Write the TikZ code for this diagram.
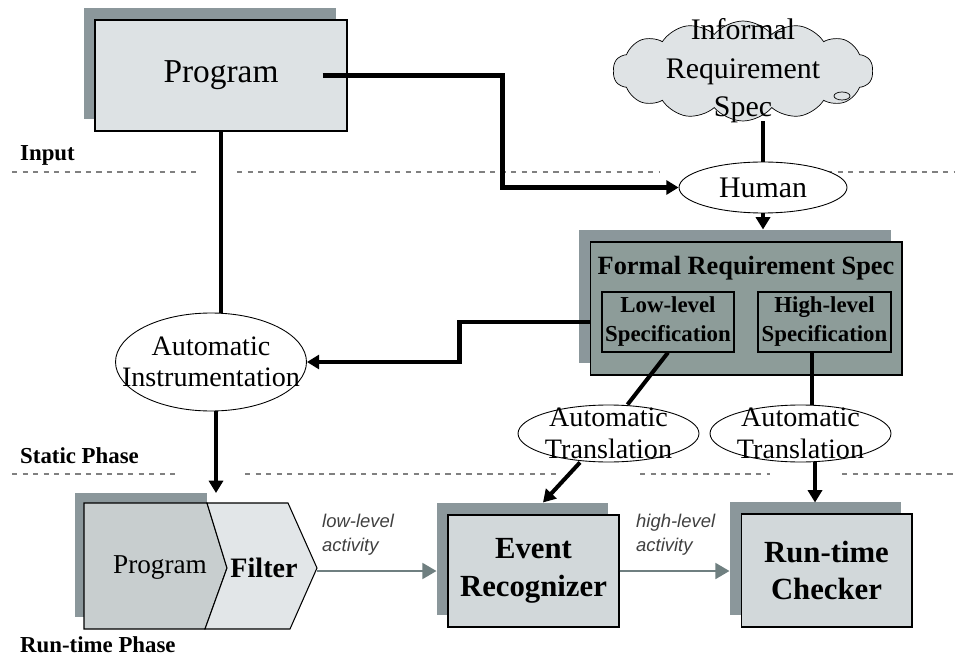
\documentclass[tikz,border=0pt]{standalone}
\usepackage{fontspec}
\setmainfont{Liberation Serif}
\setsansfont{Liberation Sans}
\usetikzlibrary{shapes.geometric,shapes.symbols,shadows,arrows.meta}
\definecolor{boxgray}{HTML}{DDE2E4}
\definecolor{shadegray}{HTML}{8B979B}
\definecolor{formalgray}{HTML}{8D9C99}
\definecolor{evgray}{HTML}{D2D8DA}
\definecolor{pgmgray}{HTML}{C8CECF}
\definecolor{filtgray}{HTML}{E2E6E8}
\definecolor{cloudgray}{HTML}{DFE3E5}
\definecolor{actgray}{HTML}{6F7F80}

\begin{document}
\begin{tikzpicture}[x=0.02cm,y=-0.02cm,
    box/.style={draw,line width=0.6pt,fill=boxgray,
      general shadow={fill=shadegray,shadow xshift=-0.22cm,shadow yshift=0.24cm}},
    oval/.style={draw,ellipse,fill=white,line width=0.5pt,inner sep=0pt},
    ovaltext/.style={align=center,font=\fontsize{16}{18}\selectfont},
    link/.style={line width=2.3pt},
    tip/.style={-{Triangle[length=7pt,width=8pt]}},
    act/.style={draw=actgray,line width=1.3pt,-{Triangle[length=8pt,width=9pt]}},
    actlbl/.style={anchor=west,align=left,text=black!75,
      font=\fontsize{10.5}{13.5}\selectfont\sffamily\itshape},
    phase/.style={anchor=west,font=\fontsize{13}{15}\selectfont\bfseries},
    sep/.style={draw=gray,dashed,line width=0.6pt}]
  \useasboundingbox (0,0) rectangle (959,658);
  % phase separators
  \draw[sep] (12,172) -- (197,172) (237,172) -- (660,172) (827,172) -- (955,172);
  \draw[sep] (12,474) -- (175,474) (245,474) -- (560,474) (640,474) -- (770,474)
    (842,474) -- (955,474);
  \node[phase] (inp) at (14,155) {Input};
  \node[phase] (stat) at (14,456) {Static Phase};
  \node[phase] (runp) at (14,645) {Run-time Phase};

  % input
  \node[box,minimum width=5.04cm,minimum height=2.22cm,
    font=\fontsize{19}{22}\selectfont] (prog) at (221,75.5) {Program};
  \node[cloud,draw,fill=cloudgray,cloud puffs=14,cloud puff arc=100,
    minimum width=5.2cm,minimum height=2.0cm,inner sep=0pt,
    label={[font=\fontsize{17}{22}\selectfont,align=center]center:{Informal\\Requirement\\Spec}}]
    (cloud) at (743,71) {};
  \draw[fill=cloudgray] (842,96) ellipse [x radius=0.16cm,y radius=0.08cm];
  \node[oval,minimum width=3.36cm,minimum height=1.02cm,
    label={[font=\fontsize{17}{20}\selectfont]center:Human}] (human) at (763,187.5) {};

  % static phase
  \node[box,fill=formalgray,minimum width=6.24cm,minimum height=2.66cm] (formal) at (746,308.5) {};
  \node[font=\fontsize{15}{17}\selectfont\bfseries] (ftitle) at (746,268) {Formal Requirement Spec};
  \node[draw,line width=0.6pt,minimum width=2.64cm,minimum height=1.2cm,align=center,
    inner sep=0pt,font=\fontsize{13}{16.5}\selectfont\bfseries] (low) at (668,322) {Low-level\\Specification};
  \node[draw,line width=0.6pt,minimum width=2.66cm,minimum height=1.2cm,align=center,
    inner sep=0pt,font=\fontsize{13}{16.5}\selectfont\bfseries] (high) at (824.5,322) {High-level\\Specification};
  \node[oval,minimum width=3.82cm,minimum height=1.96cm,
    label={[ovaltext]center:{Automatic\\Instrumentation}}] (instr) at (211,362) {};
  \node[oval,minimum width=3.62cm,minimum height=1.14cm,
    label={[ovaltext]center:{Automatic\\Translation}}] (tl) at (608.5,433.5) {};
  \node[oval,minimum width=3.62cm,minimum height=1.14cm,
    label={[ovaltext]center:{Automatic\\Translation}}] (tr) at (800.5,433.5) {};

  % run-time phase
  \fill[shadegray] (75,493) rectangle (207,617);
  \draw[fill=pgmgray,line width=0.6pt] (84,503) -- (207,503) -- (227,568) -- (205,629) -- (84,629) -- cycle;
  \draw[fill=filtgray,line width=0.6pt] (207,503) -- (288,503) -- (317,568) -- (290,629) -- (205,629)
    -- (227,568) -- cycle;
  \node[font=\fontsize{15.5}{18}\selectfont] (pgm) at (160,568) {Program};
  \node[font=\fontsize{16}{18}\selectfont\bfseries] (filt) at (264,568) {Filter};
  \coordinate (ftip) at (317,568);
  \coordinate (pftop) at (216,493);
  \node[box,fill=evgray,minimum width=3.42cm,minimum height=2.24cm,align=center,
    font=\fontsize{17.5}{21.5}\selectfont\bfseries] (event) at (533.5,571) {Event\\Recognizer};
  \node[box,fill=evgray,minimum width=3.42cm,minimum height=2.26cm,align=center,
    font=\fontsize{17.5}{21.5}\selectfont\bfseries] (checker) at (826.5,570.5) {Run-time\\Checker};
  \node[actlbl] (lowact) at (316,535) {low-level\\activity};
  \node[actlbl] (highact) at (630,535) {high-level\\activity};

  % connectors
  \coordinate (ftop) at ([yshift=0.24cm]formal.north);
  \coordinate (evtop) at ([xshift=0.19cm,yshift=0.24cm]event.north);
  \coordinate (tra) at ([xshift=0.23cm]tr.north);
  \coordinate (trb) at ([xshift=0.29cm]tr.south);
  \coordinate (chktop) at ([yshift=0.22cm]checker.north);
  \coordinate (chkl) at ([xshift=-0.22cm]checker.west);
  \draw[link,tip] ([xshift=-0.5cm]prog.east) -- ++(180,0) |- (human);
  \draw[link] (cloud.south -| human) -- (human);
  \draw[link,tip] (human) -- (human |- ftop);
  \draw[link] (prog.south) -- (prog.south |- instr.north);
  \draw[link,tip] ([yshift=-0.27cm]formal.west) -- ++(-130,0) |- (instr);
  \draw[link,tip] (instr.south -| pftop) -- (pftop);
  \draw[link] (low.south) -- ([xshift=0.38cm]tl.north);
  \draw[link,tip] ([xshift=-0.57cm]tl.south) -- (evtop);
  \draw[link] (tra |- high.south) -- (tra);
  \draw[link,tip] (trb) -- (trb |- chktop);
  \draw[act] (event.west -| ftip) -- ([xshift=-0.22cm]event.west);
  \draw[act] (event.east) -- (chkl |- event.east);
\end{tikzpicture}
\end{document}
